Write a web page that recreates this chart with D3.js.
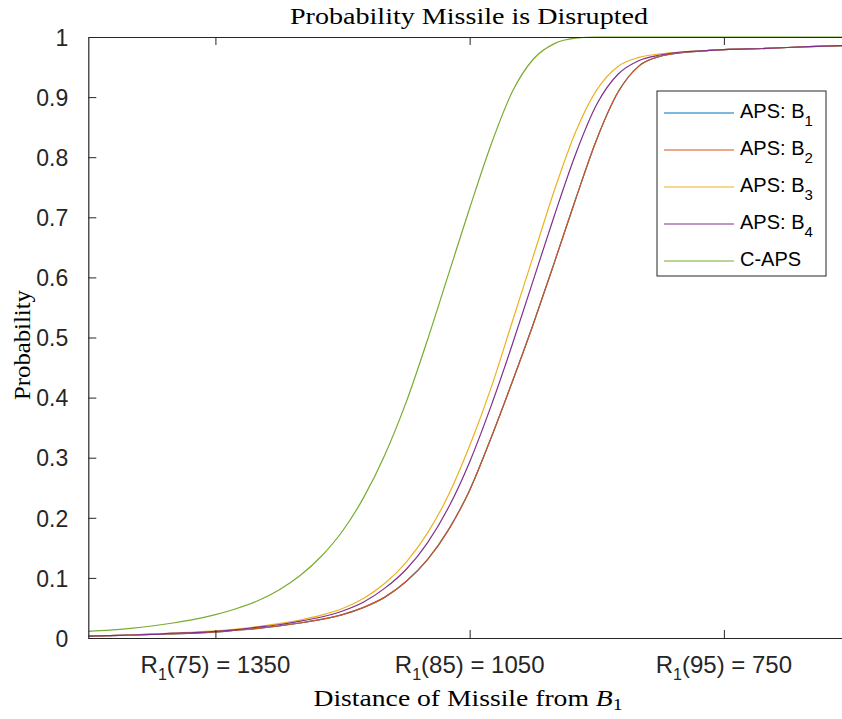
<!DOCTYPE html>
<html>
<head>
<meta charset="utf-8">
<script src="https://cdn.jsdelivr.net/npm/d3@7"></script>
<style>
  body { margin: 0; background: #fff; }
  svg { display: block; }
</style>
</head>
<body>
<div id="chart"></div>
<script>
// distance of missile from B1 (x samples)
var distance = [1500, 1475, 1450, 1425, 1400, 1375, 1350, 1325, 1300, 1275, 1250, 1225, 1200, 1175,
    1150, 1125, 1100, 1075, 1050, 1025, 1000, 975, 950, 925, 900, 875, 850, 825, 800, 775, 750, 700, 650, 600];

var apsB1 = [0.003, 0.004, 0.005, 0.006, 0.007, 0.008, 0.010, 0.013, 0.016, 0.020, 0.025, 0.031, 0.039, 0.051,
    0.068, 0.094, 0.130, 0.180, 0.246, 0.332, 0.425, 0.522, 0.625, 0.730, 0.830, 0.908, 0.952, 0.968, 0.974, 0.977, 0.979, 0.981, 0.984, 0.986];
var apsB2 = [0.003, 0.004, 0.005, 0.006, 0.007, 0.008, 0.010, 0.013, 0.016, 0.020, 0.025, 0.031, 0.039, 0.051,
    0.068, 0.094, 0.130, 0.180, 0.246, 0.332, 0.425, 0.522, 0.625, 0.730, 0.830, 0.908, 0.952, 0.968, 0.974, 0.977, 0.979, 0.981, 0.984, 0.986];
var apsB3 = [0.003, 0.004, 0.005, 0.007, 0.008, 0.010, 0.012, 0.015, 0.019, 0.024, 0.030, 0.038, 0.049, 0.066,
    0.091, 0.126, 0.174, 0.238, 0.320, 0.415, 0.525, 0.635, 0.745, 0.842, 0.912, 0.951, 0.966, 0.972, 0.975, 0.977, 0.979, 0.981, 0.984, 0.986];
var apsB4 = [0.003, 0.004, 0.005, 0.006, 0.008, 0.009, 0.011, 0.014, 0.018, 0.022, 0.028, 0.035, 0.045, 0.060,
    0.083, 0.114, 0.158, 0.217, 0.293, 0.385, 0.487, 0.595, 0.703, 0.805, 0.888, 0.938, 0.961, 0.970, 0.975, 0.977, 0.979, 0.981, 0.984, 0.986];
var cAps = [0.011, 0.013, 0.016, 0.020, 0.025, 0.031, 0.039, 0.049, 0.062, 0.080, 0.104, 0.136, 0.178, 0.234,
    0.305, 0.392, 0.495, 0.605, 0.715, 0.820, 0.908, 0.963, 0.989, 0.998, 1.000, 1.000, 1.000, 1.000, 1.000, 1.000, 1.000, 1.000, 1.000, 1.000];

var seriesNames = ["APS: B_1", "APS: B_2", "APS: B_3", "APS: B_4", "C-APS"];
var seriesValues = [apsB1, apsB2, apsB3, apsB4, cAps];
var colors = ["#0072BD", "#D95319", "#EDB120", "#7E2F8E", "#77AC30"];

// x tick positions and their R_1(level) labels
var tickDistance = [1350, 1050, 750];
var tickLevel = [75, 85, 95];
var yTicks = [0, 0.1, 0.2, 0.3, 0.4, 0.5, 0.6, 0.7, 0.8, 0.9, 1];

function drawChart() {
    var W = 842, H = 719;
    // plot box (right edge lies just outside the window, like the original)
    var box = {left: 88.3, right: 851, top: 37, bottom: 638};

    var svg = d3.select("#chart").append("svg")
        .attr("width", W).attr("height", H);

    var x = d3.scaleLinear().domain([1500, 600]).range([box.left, box.right]);
    var y = d3.scaleLinear().domain([0, 1]).range([box.bottom, box.top]);

    var axisColor = "#262626";
    var sans = "'Liberation Sans', Arial, sans-serif";
    var serif = "'Liberation Serif', 'Times New Roman', serif";

    // curves
    var line = d3.line()
        .x(function (d) { return x(d[0]); })
        .y(function (d) { return y(d[1]); })
        .curve(d3.curveMonotoneX);

    svg.append("clipPath").attr("id", "clip")
        .append("rect").attr("x", box.left).attr("y", box.top - 2)
        .attr("width", box.right - box.left).attr("height", box.bottom - box.top + 4);

    var plot = svg.append("g").attr("clip-path", "url(#clip)");
    seriesValues.forEach(function (vals, i) {
        plot.append("path")
            .datum(distance.map(function (d, j) { return [d, vals[j]]; }))
            .attr("fill", "none")
            .attr("stroke", colors[i])
            .attr("stroke-width", 1.2)
            .attr("d", line);
    });

    // axes: left, bottom and top
    var yAxis = svg.append("g")
        .attr("transform", "translate(" + box.left + ",0)")
        .call(d3.axisLeft(y).tickValues(yTicks).tickSizeInner(-8).tickSizeOuter(0).tickPadding(20)
            .tickFormat(d3.format("~g")));
    var xAxis = svg.append("g")
        .attr("transform", "translate(0," + box.bottom + ")")
        .call(d3.axisBottom(x).tickValues(tickDistance).tickSizeInner(-8).tickSizeOuter(0).tickFormat(""));
    var xTop = svg.append("g")
        .attr("transform", "translate(0," + box.top + ")")
        .call(d3.axisTop(x).tickValues(tickDistance).tickSizeInner(-8).tickSizeOuter(0).tickFormat(""));

    [yAxis, xAxis, xTop].forEach(function (a) {
        a.select(".domain").attr("stroke", axisColor).attr("stroke-width", 1.2);
        a.selectAll(".tick line").attr("stroke", axisColor).attr("stroke-width", 1);
    });
    yAxis.selectAll(".tick text")
        .attr("fill", axisColor)
        .attr("dy", "0.36em")
        .style("font-family", sans)
        .style("font-size", "23px");

    // x tick labels  R_1(level) = distance
    var xl = svg.append("g").selectAll("text")
        .data(tickDistance)
        .enter().append("text")
        .attr("x", function (d) { return x(d); })
        .attr("y", 673)
        .attr("text-anchor", "middle")
        .attr("fill", axisColor)
        .style("font-family", sans)
        .style("font-size", "24px");
    xl.append("tspan").text("R");
    xl.append("tspan").attr("dy", 7).style("font-size", "16px").text("1");
    xl.append("tspan").attr("dy", -7).text(function (d, i) { return "(" + tickLevel[i] + ") = " + d; });

    // title and axis labels
    svg.append("text")
        .attr("x", 469).attr("y", 24)
        .attr("text-anchor", "middle")
        .attr("textLength", 358).attr("lengthAdjust", "spacingAndGlyphs")
        .style("font-family", serif).style("font-size", "24px")
        .text("Probability Missile is Disrupted");

    svg.append("text")
        .attr("transform", "translate(30,345) rotate(-90)")
        .attr("text-anchor", "middle")
        .attr("textLength", 110).attr("lengthAdjust", "spacingAndGlyphs")
        .style("font-family", serif).style("font-size", "24px")
        .text("Probability");

    var xt = svg.append("text")
        .attr("x", 468).attr("y", 706)
        .attr("text-anchor", "middle")
        .style("font-family", serif).style("font-size", "24px");
    xt.append("tspan").text("Distance of Missile from ");
    xt.append("tspan").style("font-style", "italic").text("B");
    xt.append("tspan").attr("dy", 4).style("font-size", "17px").text("1");
    xt.attr("textLength", 309).attr("lengthAdjust", "spacingAndGlyphs");

    // legend
    var legend = svg.append("g");
    legend.append("rect")
        .attr("x", 657).attr("y", 91).attr("width", 169).attr("height", 185)
        .attr("fill", "#fff").attr("stroke", axisColor).attr("stroke-width", 1);

    var entry = legend.selectAll(".entry")
        .data(seriesNames)
        .enter().append("g")
        .attr("class", "entry")
        .attr("transform", function (d, i) { return "translate(0," + (113 + i * 37) + ")"; });

    entry.append("line")
        .attr("x1", 664).attr("x2", 734)
        .attr("stroke", function (d, i) { return colors[i]; })
        .attr("stroke-width", 1.2);

    var et = entry.append("text")
        .attr("x", 740).attr("y", 5)
        .attr("fill", "#000")
        .style("font-family", sans).style("font-size", "20px");
    et.append("tspan").text(function (d) { return d.split("_")[0]; });
    et.append("tspan").attr("dy", 8).style("font-size", "15px")
        .text(function (d) { return d.split("_")[1] || ""; });
}

drawChart();
</script>
</body>
</html>
